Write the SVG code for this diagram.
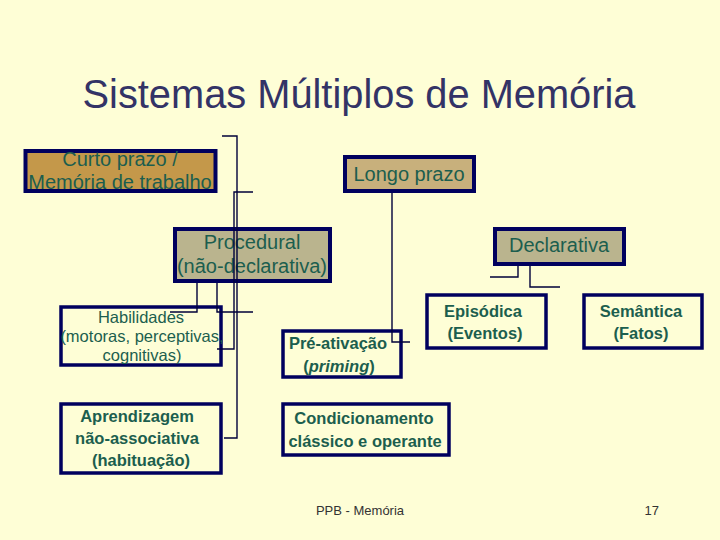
<svg xmlns="http://www.w3.org/2000/svg" width="720" height="540" viewBox="0 0 720 540">
<style>
.box{stroke:#00005e;stroke-width:4}
.thin{stroke-width:3.5}
.t{font-family:"Liberation Sans",Arial,sans-serif;fill:#1c5e4e;text-anchor:middle}
.n19{font-size:20px}
.n16{font-size:16.5px}
.b16{font-size:16.5px;font-weight:bold}
.c{fill:none;stroke:#00003a;stroke-width:1.4}
</style>
<rect width="720" height="540" fill="#fefed6"/>
<text x="359" y="108" font-family="'Liberation Sans',Arial,sans-serif" font-size="39.8" fill="#333366" text-anchor="middle">Sistemas Múltiplos de Memória</text>
<g id="curto">
<rect class="box" x="25.5" y="151" width="190" height="40" fill="#c4984a"/>
<text class="t n19" x="120" y="166">Curto prazo /</text>
<text class="t n19" x="120" y="189">Memória de trabalho</text>
</g>
<g id="longo">
<rect class="box" x="345" y="157" width="129" height="34" fill="#c8b07c"/>
<text class="t n19" x="409" y="181">Longo prazo</text>
</g>
<g id="procedural">
<rect class="box" x="175" y="229" width="155" height="52" fill="#bab48e"/>
<text class="t n19" x="252" y="249">Procedural</text>
<text class="t n19" x="252" y="273">(não-declarativa)</text>
</g>
<g id="declarativa">
<rect class="box" x="495" y="229" width="129" height="35" fill="#bab48e"/>
<text class="t n19" x="559" y="252">Declarativa</text>
</g>
<g id="habilidades">
<rect class="box thin" x="61" y="307" width="160" height="58" fill="#fefed6"/>
<text class="t n16" x="141" y="323">Habilidades</text>
<text class="t n16" x="142" y="342">(motoras, perceptivas,</text>
<text class="t n16" x="142" y="361">cognitivas)</text>
</g>
<g id="preativacao">
<rect class="box thin" x="283" y="331" width="118" height="46" fill="#fefed6"/>
<text class="t b16" x="338" y="349">Pré-ativação</text>
<text class="t b16" x="339" y="372">(<tspan font-style="italic">priming</tspan>)</text>
</g>
<g id="aprendizagem">
<rect class="box thin" x="61" y="404" width="160" height="69" fill="#fefed6"/>
<text class="t b16" x="137" y="422">Aprendizagem</text>
<text class="t b16" x="137" y="444">não-associativa</text>
<text class="t b16" x="141" y="466">(habituação)</text>
</g>
<g id="condicionamento">
<rect class="box thin" x="283" y="404" width="166" height="51" fill="#fefed6"/>
<text class="t b16" x="364" y="424">Condicionamento</text>
<text class="t b16" x="365" y="447">clássico e operante</text>
</g>
<g id="episodica">
<rect class="box thin" x="427" y="295" width="119" height="53" fill="#fefed6"/>
<text class="t b16" x="483" y="317">Episódica</text>
<text class="t b16" x="485" y="339">(Eventos)</text>
</g>
<g id="semantica">
<rect class="box thin" x="584" y="295" width="118" height="53" fill="#fefed6"/>
<text class="t b16" x="641" y="317">Semântica</text>
<text class="t b16" x="641" y="339">(Fatos)</text>
</g>
<g id="connectors">
<polyline class="c" points="222,136 237,136 237,438 224,438"/>
<polyline class="c" points="253,192 234,192 234,349 217,349"/>
<polyline class="c" points="197,283 197,312 170,312"/>
<polyline class="c" points="217,283 217,312 253,312"/>
<polyline class="c" points="392,193 392,342 410,342"/>
<polyline class="c" points="518,266 518,277 490,277"/>
<polyline class="c" points="530,266 530,287 560,287"/>
</g>
<text x="360" y="515" font-family="'Liberation Sans',Arial,sans-serif" font-size="13" fill="#333333" text-anchor="middle">PPB - Memória</text>
<text x="659" y="515" font-family="'Liberation Sans',Arial,sans-serif" font-size="13" fill="#333333" text-anchor="end">17</text>
</svg>
